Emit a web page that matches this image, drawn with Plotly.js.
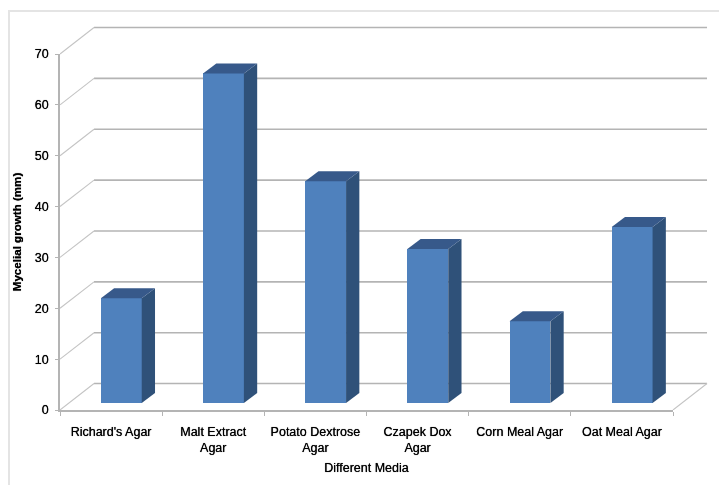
<!DOCTYPE html>
<html>
<head>
<meta charset="utf-8">
<script src="https://cdn.plot.ly/plotly-3.0.1.min.js"></script>
<style>
html,body{margin:0;padding:0;background:#fff;width:719px;height:485px;overflow:hidden}
#frame{position:absolute;left:8px;top:10px;width:720px;height:490px;border:2px solid #e4e4e4;box-sizing:border-box}
#chart{position:absolute;left:0;top:0;width:719px;height:485px;filter:blur(0.65px)}
</style>
</head>
<body>
<div id="frame"></div>
<div id="chart"></div>
<script>
var categories = ["Richard's Agar", "Malt Extract<br>Agar", "Potato Dextrose<br>Agar", "Czapek Dox<br>Agar", "Corn Meal Agar", "Oat Meal Agar"];
var growth = [20.6, 64.8, 43.6, 30.3, 16.1, 34.6];
var yTicks = [0, 10, 20, 30, 40, 50, 60, 70];

var font = {family: 'Liberation Sans, Arial, sans-serif', size: 12.5, color: '#000000', shadow: '0 0 0.7px #000000'};
var catPositions = categories.map(function (_, i) { return i + 0.5; });
var catEdges = [0, 1, 2, 3, 4, 5, 6];

// pseudo-3D offsets expressed in axis units
var wallDx = 0.333, wallDy = 5.2;      // floor depth
var barOffset = 0.1, barWidth = 0.4;   // shift of the bar inside its category
var barBase = 1.37;                    // bars stand part-way into the floor
var faceDx = 0.13, faceDy = 1.96;      // depth of each bar

// the hidden wall subplot is larger than the visible one and keeps the same scale
var visibleXDomain = 613 / 649, visibleYDomain = 356 / 384;
var wallXMax = 6 / visibleXDomain, wallYMax = 70 / visibleYDomain;

var traces = [];
var gridColor = '#b4b4b4', diagColor = '#c4c4c4';

yTicks.forEach(function (v) {
  traces.push({
    type: 'scatter', mode: 'lines', xaxis: 'x', yaxis: 'y', hoverinfo: 'skip', showlegend: false,
    x: [wallDx, 6 + wallDx], y: [v + wallDy, v + wallDy],
    line: {color: gridColor, width: 1.6}
  });
  traces.push({
    type: 'scatter', mode: 'lines', xaxis: 'x', yaxis: 'y', hoverinfo: 'skip', showlegend: false,
    x: [0, wallDx], y: [v, v + wallDy],
    line: {color: diagColor, width: 1.1}
  });
});
traces.push({
  type: 'scatter', mode: 'lines', xaxis: 'x', yaxis: 'y', hoverinfo: 'skip', showlegend: false,
  x: [6, 6 + wallDx], y: [0, wallDy],
  line: {color: diagColor, width: 1.1}
});

traces.push({
  type: 'bar', xaxis: 'x2', yaxis: 'y2', cliponaxis: false, showlegend: false,
  x: catPositions.map(function (p) { return p + barOffset; }),
  y: growth, base: barBase, width: barWidth,
  marker: {color: '#4f81bd', line: {width: 0}}
});
growth.forEach(function (v, i) {
  var l = i + 0.5 + barOffset - barWidth / 2, r = l + barWidth, t = v + barBase, b = barBase;
  traces.push({
    type: 'scatter', mode: 'lines', xaxis: 'x2', yaxis: 'y2', hoverinfo: 'skip', showlegend: false,
    fill: 'toself', fillcolor: '#2f5179', line: {width: 0, color: '#2f5179'},
    x: [r, r + faceDx, r + faceDx, r, r], y: [b, b + faceDy, t + faceDy, t, b]
  });
  traces.push({
    type: 'scatter', mode: 'lines', xaxis: 'x2', yaxis: 'y2', hoverinfo: 'skip', showlegend: false,
    fill: 'toself', fillcolor: '#37598a', line: {width: 0, color: '#37598a'},
    x: [l, l + faceDx, r + faceDx, r, l], y: [t, t + faceDy, t + faceDy, t, t]
  });
});

var layout = {
  width: 719, height: 485, autosize: false,
  margin: {l: 60, r: 10, t: 26, b: 75, pad: 0},
  paper_bgcolor: 'rgba(0,0,0,0)', plot_bgcolor: 'rgba(0,0,0,0)',
  showlegend: false, bargap: 0,
  font: font,
  xaxis: {domain: [0, 1], range: [0, wallXMax], visible: false, fixedrange: true},
  yaxis: {domain: [0, 1], range: [0, wallYMax], visible: false, fixedrange: true},
  xaxis2: {
    domain: [0, visibleXDomain], anchor: 'y2', range: [0, 6], showgrid: false, zeroline: false,
    showline: true, linecolor: gridColor, linewidth: 1.6,
    tickmode: 'array', tickvals: catPositions, ticktext: categories, ticks: '',
    tickfont: font, tickangle: 0, ticklabelstandoff: 9,
    minor: {tickmode: 'array', tickvals: catEdges, ticks: 'outside', ticklen: 4, tickwidth: 1, tickcolor: gridColor, showgrid: false},
    title: {text: 'Different Media', font: font, standoff: 9}
  },
  yaxis2: {
    domain: [0, visibleYDomain], anchor: 'x2', range: [0, 70], showgrid: false, zeroline: false,
    showline: true, linecolor: gridColor, linewidth: 1.8,
    tickmode: 'array', tickvals: yTicks, ticks: 'outside', ticklen: 3, tickwidth: 1, tickcolor: gridColor,
    tickfont: font, ticklabelstandoff: 4,
    title: {text: '<b>Mycelial growth (mm)</b>', font: {family: font.family, size: 11.6, color: '#000000'}, standoff: 11}
  }
};
Plotly.newPlot('chart', traces, layout, {displayModeBar: false, staticPlot: true});
</script>
</body>
</html>
